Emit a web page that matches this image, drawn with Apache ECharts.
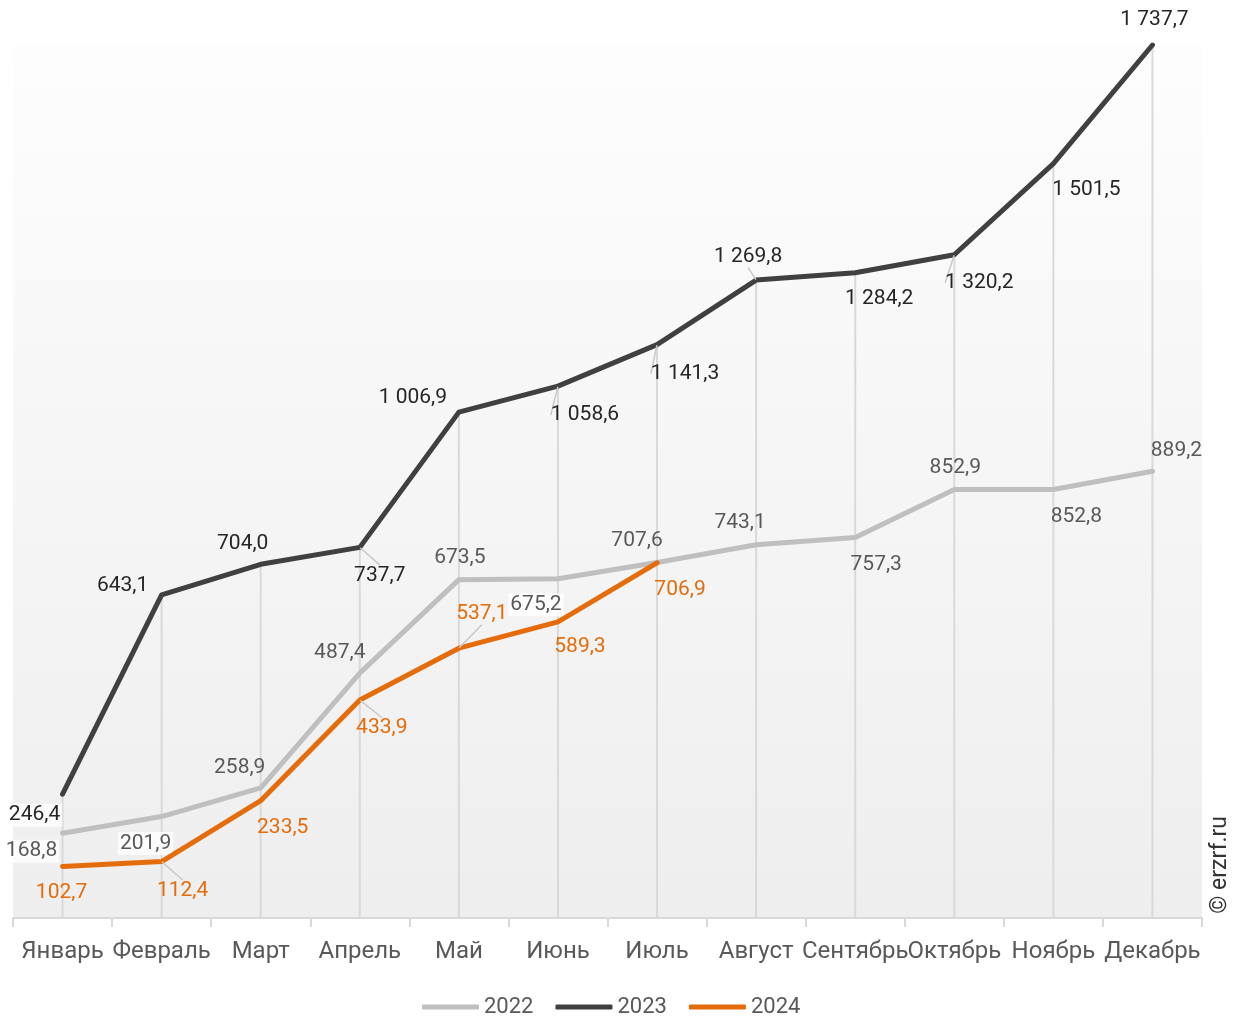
<!DOCTYPE html>
<html>
<head>
<meta charset="utf-8">
<script src="https://cdn.jsdelivr.net/npm/echarts@6/dist/echarts.min.js"></script>
<style>
  html, body { margin: 0; padding: 0; background: #ffffff; }
  #chart { width: 1239px; height: 1017px; }
</style>
</head>
<body>
<div id="chart"></div>
<script>
// Monthly values by year
const months = ['Январь', 'Февраль', 'Март', 'Апрель', 'Май', 'Июнь', 'Июль', 'Август', 'Сентябрь', 'Октябрь', 'Ноябрь', 'Декабрь'];
const values2022 = [168.8, 201.9, 258.9, 487.4, 673.5, 675.2, 707.6, 743.1, 757.3, 852.9, 852.8, 889.2];
const values2023 = [246.4, 643.1, 704.0, 737.7, 1006.9, 1058.6, 1141.3, 1269.8, 1284.2, 1320.2, 1501.5, 1737.7];
const values2024 = [102.7, 112.4, 233.5, 433.9, 537.1, 589.3, 706.9];
const seriesNames = ['2022', '2023', '2024'];

// Label placement: offset of each label centre from its point, leader flag, white box flag
const place2022 = [[-31, 18, 0, 1], [-16, 27, 0, 1], [-21, -20, 0, 0], [-20, -20, 0, 0], [1, -22, 0, 0], [-22, 26, 0, 1],
                   [-20, -22, 0, 0], [-16, -22, 0, 0], [21, 27, 0, 0], [1, -22, 0, 0], [23, 27, 0, 0], [24, -21, 0, 0]];
const place2023 = [[-28, 21, 0, 1], [-39, -9, 0, 0], [-18, -21, 0, 0], [20, 28, 1, 0], [-46, -14, 0, 0], [27, 29, 1, 0],
                   [28, 29, 1, 0], [-8, -23, 1, 0], [24, 26, 0, 0], [25, 28, 1, 0], [33, 26, 0, 0], [2, -25, 0, 0]];
const place2024 = [[-1, 26, 0, 0], [21, 29, 1, 0], [22, 27, 0, 0], [22, 28, 1, 0], [23, -34, 1, 0], [22, 25, 0, 0], [23, 27, 0, 0]];

const colors = { '2022': '#BFBFBF', '2023': '#404040', '2024': '#E46C0A' };
const labelColors = { '2022': '#595959', '2023': '#262626', '2024': '#E46C0A' };
const FONT = 'Roboto, "Noto Sans", sans-serif';

function fmt(v) {
  const parts = v.toFixed(1).split('.');
  const intPart = parts[0].replace(/\B(?=(\d{3})+(?!\d))/g, ' ');
  return intPart + ',' + parts[1];
}

// Drop lines reach from the axis up to the highest point of each month
const dropHeights = months.map((m, i) => Math.max(
  values2022[i] ?? 0, values2023[i] ?? 0, values2024[i] ?? 0));

function lineSeries(name, values, place, z) {
  return {
    name: name,
    type: 'line',
    z: z,
    symbol: 'circle',
    symbolSize: 1,
    showSymbol: true,
    itemStyle: { color: colors[name] },
    lineStyle: { color: colors[name], width: 5, cap: 'round', join: 'round' },
    emphasis: { disabled: true },
    label: {
      show: true,
      position: 'inside',
      align: 'center',
      verticalAlign: 'middle',
      color: labelColors[name],
      fontFamily: FONT,
      fontSize: 21,
      formatter: p => fmt(p.value)
    },
    labelLine: { show: false, lineStyle: { color: '#C8C8C8', width: 1.5 } },
    labelLayout: p => {
      const o = place[p.dataIndex];
      return { dx: o[0], dy: o[1] };
    },
    data: values.map((v, i) => ({
      value: v,
      labelLine: { show: !!place[i][2], lineStyle: { color: '#C8C8C8', width: 1.5 } },
      label: place[i][3] ? { backgroundColor: 'rgba(255,255,255,0.8)', padding: [1, 2] } : {}
    }))
  };
}

const chart = echarts.init(document.getElementById('chart'), null, { renderer: 'canvas' });
chart.setOption({
  animation: false,
  backgroundColor: '#ffffff',
  textStyle: { fontFamily: FONT },
  grid: {
    left: 13, right: 37, top: 45, bottom: 99,
    show: true,
    borderWidth: 0,
    backgroundColor: {
      type: 'linear', x: 0, y: 0, x2: 0, y2: 1,
      colorStops: [{ offset: 0, color: '#FDFDFD' }, { offset: 1, color: '#EEEEEE' }]
    }
  },
  legend: {
    data: seriesNames.map(n => ({ name: n, icon: 'roundRect' })),
    top: 991,
    left: 417,
    itemWidth: 57,
    itemHeight: 5,
    itemGap: 22,
    textStyle: { color: '#595959', fontSize: 22, fontFamily: FONT }
  },
  xAxis: {
    type: 'category',
    data: months,
    boundaryGap: true,
    axisLine: { lineStyle: { color: '#D9D9D9', width: 2 } },
    axisTick: { show: true, length: 9, lineStyle: { color: '#D9D9D9', width: 2 } },
    axisLabel: { interval: 0, color: '#595959', fontSize: 24, fontFamily: FONT, margin: 22 },
    splitLine: { show: false }
  },
  yAxis: {
    type: 'value',
    show: false,
    min: 0,
    max: 'dataMax',
    splitLine: { show: false }
  },
  graphic: [{
    type: 'text',
    left: 1209,
    top: 816,
    rotation: Math.PI / 2,
    style: { text: '© erzrf.ru', fill: '#333333', fontSize: 23, fontFamily: FONT }
  }],
  series: [
    {
      name: 'drop',
      type: 'bar',
      z: 1,
      barWidth: 2,
      silent: true,
      itemStyle: { color: '#D9D9D9' },
      data: dropHeights
    },
    lineSeries('2022', values2022, place2022, 3),
    lineSeries('2023', values2023, place2023, 4),
    lineSeries('2024', values2024, place2024, 5)
  ]
});
</script>
</body>
</html>
